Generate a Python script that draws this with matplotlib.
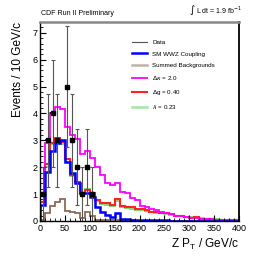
import matplotlib
matplotlib.use("Agg")
import matplotlib.pyplot as plt
import numpy as np
from matplotlib.lines import Line2D
from matplotlib.ticker import MultipleLocator

plt.rcParams['font.family'] = ['Liberation Sans', 'DejaVu Sans']

bin_edges = np.arange(0, 410, 10)

sm_wwz = [0.6, 1.83, 2.6, 2.9, 3.0, 2.2, 1.77, 1.4, 1.03, 1.03, 0.9, 0.5, 0.35, 0.22, 0.16, 0.31, 0.08, 0.06, 0.05, 0.04,
          0.04, 0.03, 0.03, 0.02, 0.02, 0.02, 0.01, 0.01, 0.01, 0.01, 0.01, 0.01, 0.0, 0.0, 0.0, 0.0, 0.0, 0.0, 0.0, 0.0]
backgrounds = [0.05, 0.3, 0.55, 0.72, 0.82, 0.38, 0.33, 0.28, 0.12, 0.35, 0.18, 0.05, 0.05, 0.04, 0.04, 0.04, 0.03, 0.02, 0.02, 0.01,
               0.01, 0.01, 0.0, 0.0, 0.0, 0.0, 0.0, 0.0, 0.0, 0.0, 0.0, 0.0, 0.0, 0.0, 0.0, 0.0, 0.0, 0.0, 0.0, 0.0]
dkappa = [1.05, 2.9, 4.0, 4.25, 4.15, 3.5, 3.2, 3.05, 2.5, 2.6, 2.33, 2.02, 1.71, 1.4, 1.34, 1.4, 1.09, 1.03, 0.84, 0.78,
          0.55, 0.5, 0.45, 0.42, 0.35, 0.3, 0.25, 0.2, 0.17, 0.15, 0.12, 0.1, 0.08, 0.07, 0.06, 0.05, 0.04, 0.03, 0.03, 0.02]
dg = [0.72, 2.1, 2.9, 3.1, 2.95, 2.3, 1.72, 1.46, 1.03, 1.15, 1.05, 0.78, 0.65, 0.65, 0.59, 0.8, 0.55, 0.5, 0.5, 0.45,
      0.45, 0.4, 0.35, 0.35, 0.3, 0.28, 0.25, 0.2, 0.18, 0.15, 0.12, 0.15, 0.08, 0.07, 0.08, 0.05, 0.04, 0.04, 0.03, 0.02]
lam = [0.7, 2.0, 2.85, 3.05, 2.85, 2.2, 1.66, 1.4, 1.0, 1.2, 1.0, 0.75, 0.62, 0.6, 0.55, 0.75, 0.5, 0.47, 0.45, 0.42,
       0.4, 0.38, 0.33, 0.3, 0.28, 0.25, 0.22, 0.2, 0.17, 0.15, 0.13, 0.12, 0.1, 0.08, 0.07, 0.06, 0.05, 0.04, 0.03, 0.02]

data_x = [5, 15, 25, 35, 55, 65, 75, 85, 95, 105]
data_y = [1, 3, 4, 3, 5, 3, 2, 1, 2, 1]

fig = plt.figure(figsize=(2.57, 2.59), dpi=100)
ax = fig.add_axes([0.156, 0.147, 0.774, 0.768])

ax.stairs(backgrounds, bin_edges, color='#8b6b5a', lw=1.3)
ax.stairs(lam, bin_edges, color='#7fe07f', lw=1.5)
ax.stairs(dg, bin_edges, color='#ff2020', lw=1.5)
ax.stairs(dkappa, bin_edges, color='#ff00ff', lw=1.3)
ax.stairs(sm_wwz, bin_edges, color='#0000ff', lw=1.8)

dy = np.sqrt(np.array(data_y, dtype=float))
ax.errorbar(data_x, data_y, yerr=dy, fmt='none', ecolor='#555555', elinewidth=0.8, capsize=1.2, capthick=0.8)
ax.errorbar(data_x, data_y, xerr=5, fmt='s', color='black', ms=2.5, elinewidth=1.2, capsize=0)

ax.set_xlim(0, 400)
ax.set_ylim(0, 7.4)
ax.xaxis.set_major_locator(MultipleLocator(50))
ax.xaxis.set_minor_locator(MultipleLocator(10))
ax.yaxis.set_major_locator(MultipleLocator(1))
ax.yaxis.set_minor_locator(MultipleLocator(0.2))
ax.tick_params(which='both', direction='in', top=False, right=False, labelsize=6.5, pad=2)
ax.tick_params(which='major', length=4, width=0.8)
ax.tick_params(which='minor', length=2, width=0.6)

for s in ['left', 'bottom', 'right']:
    ax.spines[s].set_color('black')
    ax.spines[s].set_linewidth(1.0)
ax.spines['right'].set_linewidth(1.3)
ax.spines['top'].set_color('#888888')
ax.spines['top'].set_linewidth(1.8)

ax.set_xlabel('Z P$_\\mathregular{T}$ / GeV/c', fontsize=8.5, loc='right', labelpad=3)
ax.set_ylabel('Events / 10 GeV/c', fontsize=8.5, loc='top', labelpad=6)

fig.text(0.16, 0.935, 'CDF Run II Preliminary', fontsize=5, ha='left', va='bottom')
fig.text(0.94, 0.935, '$\\int$ L dt = 1.9 fb$^{-1}$', fontsize=5, ha='right', va='bottom')

handles = [
    Line2D([], [], color='#555555', lw=0.8),
    Line2D([], [], color='#0000ff', lw=1.8),
    Line2D([], [], color='#c0b0a8', lw=1.8),
    Line2D([], [], color='#ff00ff', lw=1.3),
    Line2D([], [], color='#ff2020', lw=1.5),
    Line2D([], [], color='#a0e8a0', lw=1.8),
]
labels = ['Data', 'SM WWZ Coupling', 'Summed Backgrounds', '$\\Delta\\kappa$ = 2.0', '$\\Delta$g = 0.40', '$\\lambda$ = 0.23']
ax.legend(handles, labels, loc='upper left', bbox_to_anchor=(0.46, 0.91), frameon=False, fontsize=4.5,
          handlelength=2.4, handletextpad=0.9, labelspacing=0.95, borderaxespad=0, borderpad=0)

fig.savefig('out.png', dpi=100)
